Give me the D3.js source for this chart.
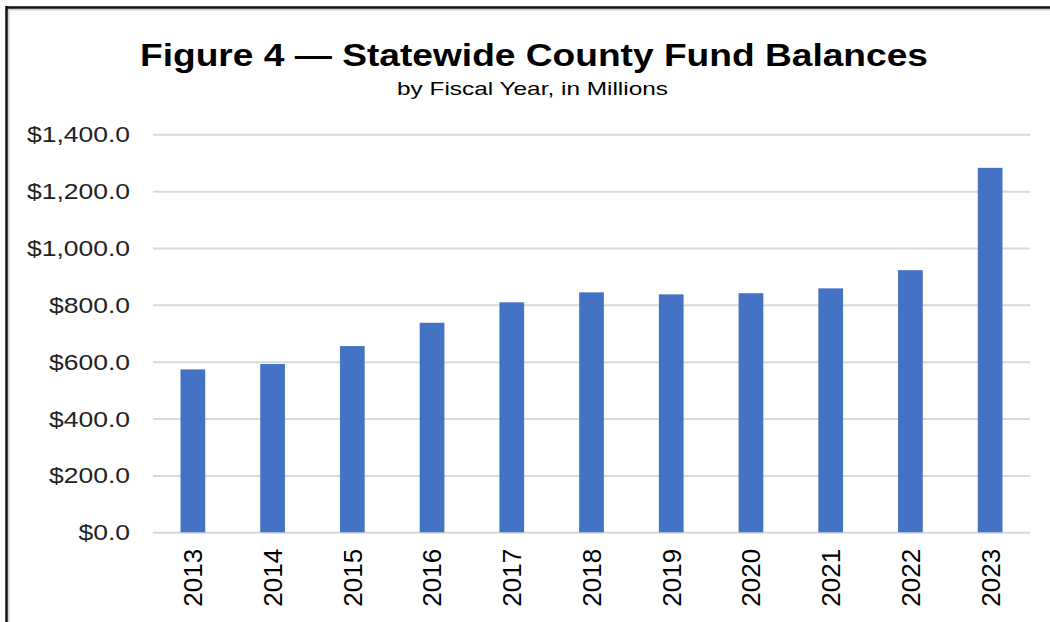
<!DOCTYPE html>
<html><head><meta charset="utf-8">
<script src="https://cdn.jsdelivr.net/npm/d3@7"></script>
<style>html,body{margin:0;padding:0;background:#fff;}svg{display:block;}</style>
</head><body>
<script>
const years = ["2013","2014","2015","2016","2017","2018","2019","2020","2021","2022","2023"];
const balances = [573, 592, 655, 737, 809, 844, 837, 841, 858, 922, 1282];
const yTicks = [0, 200, 400, 600, 800, 1000, 1200, 1400];
const titleText = "Figure 4 \u2014 Statewide County Fund Balances";
const subtitleText = "by Fiscal Year, in Millions";

(function () {
const W = 1050, H = 622;
const svg = d3.select("body").append("svg").attr("width", W).attr("height", H);
svg.append("rect").attr("width", W).attr("height", H).attr("fill", "#fff");

// frame
svg.append("line").attr("x1", 7).attr("x2", W).attr("y1", 9.5).attr("y2", 9.5).attr("stroke", "#d0d0d0").attr("stroke-width", 2);
svg.append("line").attr("x1", 8.5).attr("x2", 8.5).attr("y1", 8).attr("y2", H).attr("stroke", "#d0d0d0").attr("stroke-width", 2);
svg.append("line").attr("x1", 6).attr("x2", W).attr("y1", 7.5).attr("y2", 7.5).attr("stroke", "#111").attr("stroke-width", 2.5);
svg.append("line").attr("x1", 6.5).attr("x2", 6.5).attr("y1", 6).attr("y2", H).attr("stroke", "#111").attr("stroke-width", 2.5);

const font = "Arial, 'Liberation Sans', sans-serif";
svg.append("text").attr("x", 534).attr("y", 65.5).attr("text-anchor", "middle")
  .attr("font-family", font).attr("font-weight", "bold").attr("font-size", 31).attr("fill", "#000")
  .attr("textLength", 788).attr("lengthAdjust", "spacingAndGlyphs")
  .text(titleText);
svg.append("text").attr("x", 532.5).attr("y", 95).attr("text-anchor", "middle")
  .attr("font-family", font).attr("font-size", 18.5).attr("fill", "#000")
  .attr("textLength", 271).attr("lengthAdjust", "spacingAndGlyphs")
  .text(subtitleText);

const mLeft = 153, mRight = 1030, mTop = 134.3, mBottom = 532.3;
const x = d3.scaleBand().domain(years).range([mLeft, mRight]).paddingInner(0.69).paddingOuter(0.345);
const y = d3.scaleLinear().domain([0, 1400]).range([mBottom, mTop]);

const fmt = v => "$" + d3.format(",.1f")(v);

const yAxis = svg.append("g").attr("transform", `translate(${mLeft},0)`)
  .call(d3.axisLeft(y).tickValues(yTicks).tickFormat(fmt).tickSize(-(mRight - mLeft)).tickPadding(23));
yAxis.select(".domain").remove();
yAxis.selectAll(".tick line").attr("stroke", "#d9d9d9").attr("stroke-width", 2);
yAxis.selectAll(".tick text").attr("font-family", font).attr("font-size", 21.5).attr("fill", "#222").attr("dy", "0.35em")
  .each(function () {
    const len = this.getComputedTextLength();
    d3.select(this).attr("textLength", len * 1.23).attr("lengthAdjust", "spacingAndGlyphs");
  });

svg.append("g").selectAll("rect").data(years).join("rect")
  .attr("x", d => x(d)).attr("width", x.bandwidth())
  .attr("y", (d, i) => y(balances[i])).attr("height", (d, i) => y(0) - y(balances[i]))
  .attr("fill", "#4472c4");

const xAxis = svg.append("g").attr("transform", `translate(0,${mBottom})`)
  .call(d3.axisBottom(x).tickSize(0).tickPadding(0));
xAxis.select(".domain").remove();
xAxis.selectAll(".tick text")
  .attr("font-family", font).attr("font-size", 26).attr("fill", "#000")
  .attr("transform", "rotate(-90)").attr("text-anchor", "end")
  .attr("x", -16.5).attr("y", 0).attr("dy", "0.36em");
})();
</script>
</body></html>
